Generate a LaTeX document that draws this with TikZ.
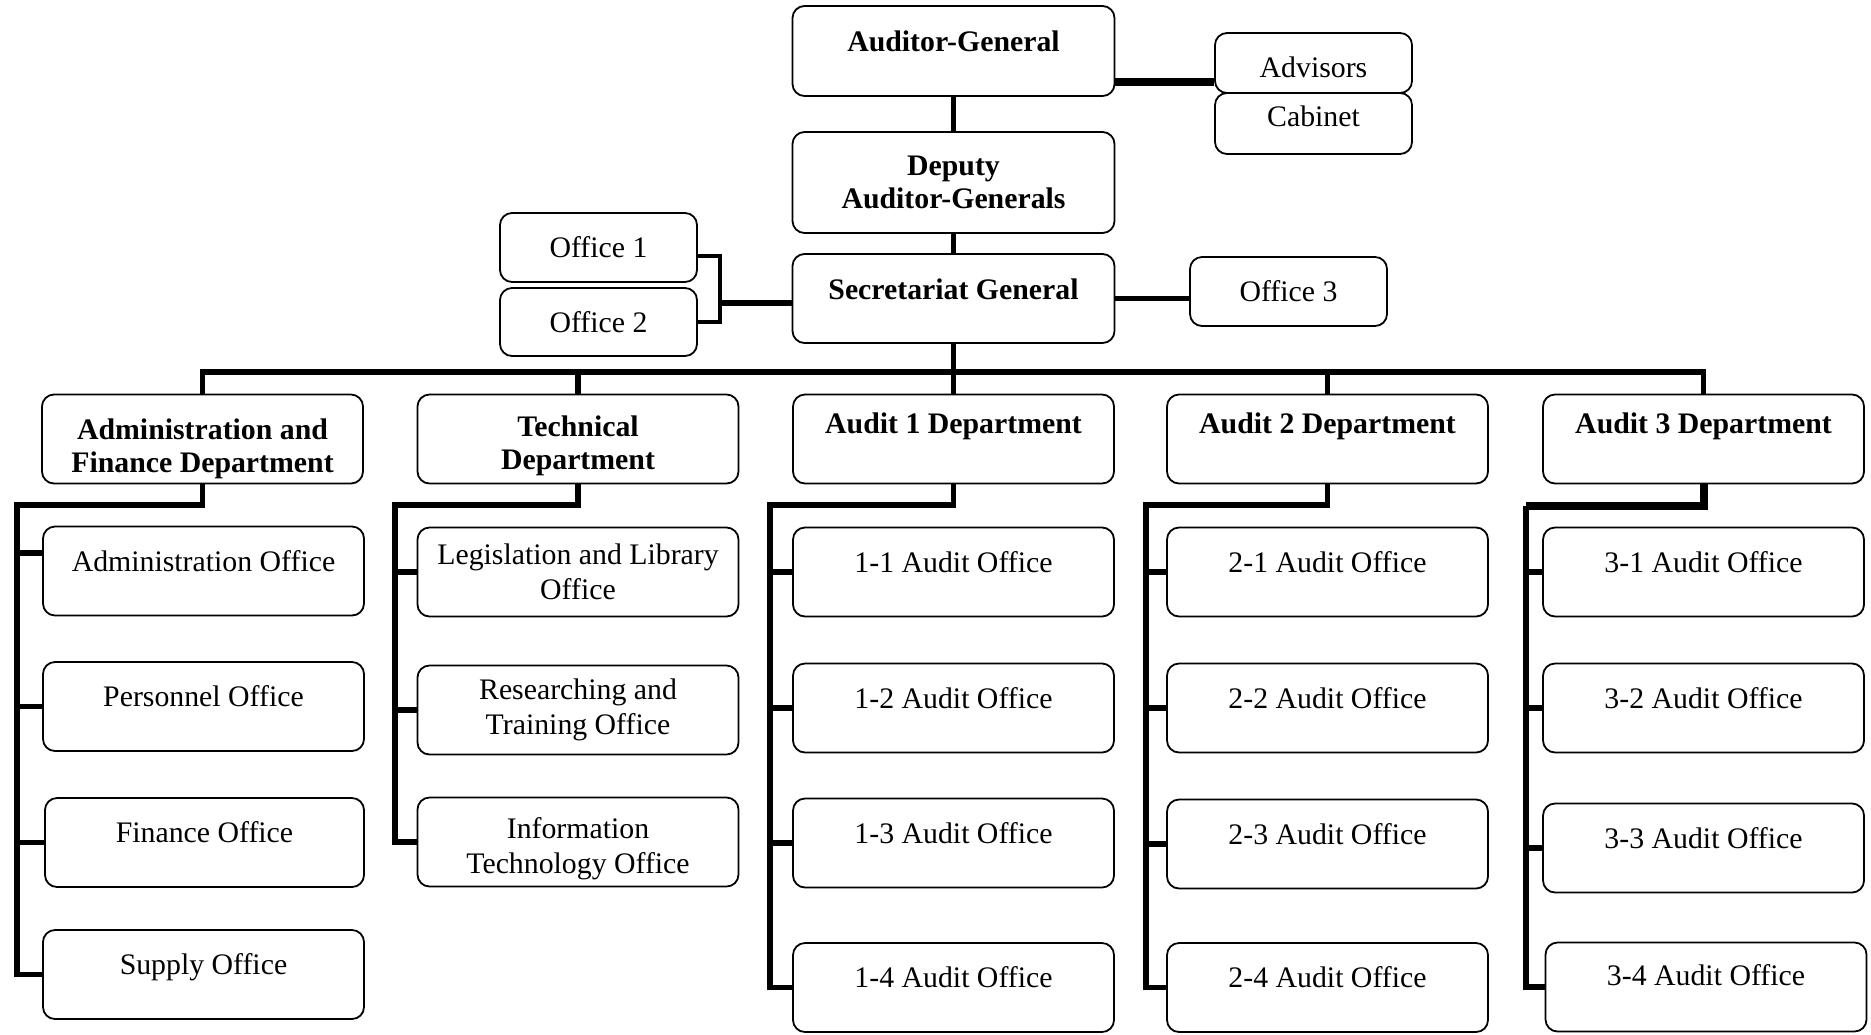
\documentclass[tikz,border=0pt]{standalone}
\usepackage{fontspec}
\setmainfont{Liberation Serif}

\tikzset{
  unit/.style={draw,rounded corners=6pt,line width=0.9pt,inner sep=0pt,align=center,
    minimum width=160.5pt,minimum height=44.5pt,font=\fontsize{14.9}{17.5}\selectfont},
  head/.style={unit,font=\fontsize{14.9}{16.5}\selectfont\bfseries},
  small unit/.style={unit,minimum width=98.5pt,minimum height=34.5pt},
  lift/.style={text height=10.5pt,text depth=#1},
  sink/.style={text height=#1,text depth=0pt},
  link/.style={line width=2.6pt},
}

\begin{document}
\begin{tikzpicture}[x=0.5pt,y=-0.5pt]
\useasboundingbox (0,0) rectangle (1871,1034);

% top of the chart
\node[head,lift=10pt,minimum width=161pt,minimum height=45pt] (AG) at (953.5,51) {Auditor-General};
\node[head,minimum width=161pt,minimum height=50.5pt] (DAG) at (953.5,182.5) {Deputy\\Auditor-Generals};
\node[head,lift=10pt,minimum width=161pt] (SG) at (953.5,298.5) {Secretariat General};
\node[small unit,minimum height=30pt,text height=17pt,text depth=3pt] (ADV) at (1313.5,63) {Advisors};
\node[small unit,minimum height=30.5pt,lift=7.5pt] (CAB) at (1313.5,123.5) {Cabinet};
\node[small unit] (OF1) at (598.5,247.5) {Office 1};
\node[small unit,minimum height=34pt] (OF2) at (598.5,322) {Office 2};
\node[small unit] (OF3) at (1288.5,291.5) {Office 3};

	\draw[link] (AG.south) -- (DAG.north);
	\draw[link] (DAG.south) -- (SG.north);
\draw[line width=3.6pt] ([yshift=-15.5pt]AG.east) -- ([yshift=-15.5pt]AG.east -| ADV.west);
\draw[link] (SG.east) -- (SG.east -| OF3.west);
\coordinate (brk) at (720,303);
\draw[line width=2pt] ([yshift=-4pt]OF1.east) -| (brk) |- (OF2.east);
\draw[link] (brk) -- (SG.west |- brk);

% departments
\node[head,sink=33.5pt] (AF) at (202.5,439) {Administration and\\Finance Department};
\node[head,sink=30.5pt] (TD) at (578,439) {Technical\\Department};
\node[head,lift=16.5pt] (A1) at (953.5,439) {Audit 1 Department};
\node[head,lift=16.5pt] (A2) at (1327.5,439) {Audit 2 Department};
\node[head,lift=16.5pt] (A3) at (1703.5,439) {Audit 3 Department};

\coordinate (bus) at (953.5,372);
\draw[link] (AF.north) -- (AF.north |- bus) -- (A3.north |- bus) -- (A3.north);
\draw[link] (SG.south) -- (A1.north);
\draw[link] (TD.north) -- (TD.north |- bus);
\draw[link] (A2.north) -- (A2.north |- bus);

% offices
\node[unit,lift=10.5pt] (AF1) at (203.5,571) {Administration Office};
\node[unit,lift=10.5pt] (AF2) at (203.5,706.5) {Personnel Office};
\node[unit,lift=10.5pt,minimum width=159.5pt] (AF3) at (204.5,842.5) {Finance Office};
\node[unit,lift=10.5pt] (AF4) at (203.5,974.5) {Supply Office};

\node[unit] (TD1) at (578,572) {Legislation and Library\\Office};
\node[unit] (TD2) at (578,710) {Researching and\\Training Office};
\node[unit,sink=31pt] (TD3) at (578,842) {Information\\Technology Office};

\node[unit,lift=10.5pt] (A11) at (953.5,572) {1-1 Audit Office};
\node[unit,lift=10.5pt] (A12) at (953.5,708) {1-2 Audit Office};
\node[unit,lift=10.5pt] (A13) at (953.5,843) {1-3 Audit Office};
\node[unit,lift=10.5pt] (A14) at (953.5,987.5) {1-4 Audit Office};

\node[unit,lift=10.5pt] (A21) at (1327.5,572) {2-1 Audit Office};
\node[unit,lift=10.5pt] (A22) at (1327.5,708) {2-2 Audit Office};
\node[unit,lift=10.5pt] (A23) at (1327.5,844) {2-3 Audit Office};
\node[unit,lift=10.5pt] (A24) at (1327.5,987.5) {2-4 Audit Office};

\node[unit,lift=10.5pt] (A31) at (1703.5,572) {3-1 Audit Office};
\node[unit,lift=10.5pt] (A32) at (1703.5,708) {3-2 Audit Office};
\node[unit,lift=10.5pt] (A33) at (1703.5,848) {3-3 Audit Office};
\node[unit,lift=12pt] (A34) at (1706,987) {3-4 Audit Office};

% spines of the departments
\coordinate (AFs) at (17,505);
\draw[link] (AF.south) |- (AFs) |- (AF4.west);
\draw[link] ([yshift=9pt]AFs |- AF1.west) -- ([yshift=9pt]AF1.west);
\draw[link] (AFs |- AF2.west) -- (AF2.west);
\draw[link] (AFs |- AF3.west) -- (AF3.west);

\coordinate (TDs) at (395,505);
\draw[link] (TD.south) |- (TDs) |- (TD3.west);
\draw[link] (TDs |- TD1.west) -- (TD1.west);
\draw[link] (TDs |- TD2.west) -- (TD2.west);

\coordinate (A1s) at (770,505);
\draw[link] (A1.south) |- (A1s) |- (A14.west);
\draw[link] (A1s |- A11.west) -- (A11.west);
\draw[link] (A1s |- A12.west) -- (A12.west);
\draw[link] (A1s |- A13.west) -- (A13.west);

\coordinate (A2s) at (1146,505);
\draw[link] (A2.south) |- (A2s) |- (A24.west);
\draw[link] (A2s |- A21.west) -- (A21.west);
\draw[link] (A2s |- A22.west) -- (A22.west);
\draw[link] (A2s |- A23.west) -- (A23.west);

\coordinate (A3s) at (1526,506);
\draw[line width=4pt] (A3.south) |- (A3s);
\draw[link] (A3s) |- (A34.west);
\draw[link] (A3s |- A31.west) -- (A31.west);
\draw[link] (A3s |- A32.west) -- (A32.west);
\draw[link] (A3s |- A33.west) -- (A33.west);
\end{tikzpicture}
\end{document}
